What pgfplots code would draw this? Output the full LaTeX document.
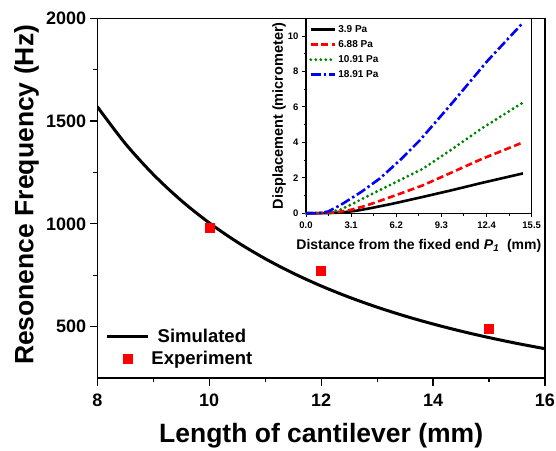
\documentclass[border=0pt]{standalone}
\usepackage{fontspec}
\setmainfont{Liberation Sans}
\usepackage{pgfplots}
\pgfplotsset{compat=1.18}
\definecolor{ogreen}{RGB}{0,128,0}
\begin{document}
\begin{tikzpicture}
\useasboundingbox (0pt,0pt) rectangle (556pt,450pt);
\begin{axis}[
  at={(97.3pt,72pt)}, anchor=south west, scale only axis,
  width=447.7pt, height=359.7pt,
  xmin=8, xmax=16, ymin=250, ymax=2000,
  xtick={8,10,12,14,16}, minor xtick={9,11,13,15},
  ytick={500,1000,1500,2000}, minor ytick={750,1250,1750},
  tick pos=left, tick align=outside,
  major tick length=7.5pt, minor tick length=4pt,
  every tick/.style={black, line width=1.2pt},
  axis line style={line width=1.2pt},
  /pgf/number format/assume math mode=true,
  /pgf/number format/1000 sep={},
  ticklabel style={font=\bfseries\fontsize{18}{20}\selectfont},
  xticklabel style={yshift=-5pt},
  xlabel={Length of cantilever (mm)},
  ylabel={Resonence Frequency (Hz)},
  label style={font=\bfseries\fontsize{26.5}{30}\selectfont},
  xlabel style={at={(axis description cs:0.5,-0.178)}, anchor=base},
  ylabel style={at={(axis description cs:-0.143,0.509)}, anchor=base},
  legend image code/.code={\draw[mark repeat=2,mark phase=2,#1] plot coordinates {(0pt,0pt) (20.5pt,0pt) (41pt,0pt)};},
  legend style={at={(axis description cs:0,0)}, anchor=south west, draw=none, fill=none,
    font=\bfseries\fontsize{18.5}{20}\selectfont, row sep=2.5pt, xshift=5pt, yshift=8pt},
  legend cell align=center,
]
\addplot[black, line width=3pt, smooth] coordinates {
(8,1570) (8.5,1390.7) (9,1240.5) (9.5,1113.3) (10,1004.8) (10.5,911.4) (11,830.4)
(11.5,759.8) (12,697.8) (12.5,643.1) (13,594.6) (13.5,551.3) (14,512.7) (14.5,477.9)
(15,446.6) (15.5,418.2) (16,392.5)};
\addlegendentry{Simulated}
\addplot[only marks, mark=square*, mark size=4.5pt, color=red, fill=red] coordinates {
(10,980) (12,770) (15,492)};
\addlegendentry{Experiment}
\end{axis}
\begin{axis}[
  at={(306pt,236.7pt)}, anchor=south west, scale only axis,
  width=225.7pt, height=195pt,
  xmin=0, xmax=15.5, ymin=0, ymax=11,
  xtick={0,3.1,6.2,9.3,12.4,15.5}, minor xtick={1.55,4.65,7.75,10.85,13.95},
  ytick={0,2,4,6,8,10}, minor ytick={1,3,5,7,9},
  xticklabel style={/pgf/number format/fixed, /pgf/number format/fixed zerofill, /pgf/number format/precision=1, yshift=-1pt},
  tick pos=left, tick align=outside,
  major tick length=4pt, minor tick length=2.5pt,
  every tick/.style={black, line width=1pt},
  axis line style={line width=1.1pt},
  axis background/.style={fill=white},
  clip=false,
  /pgf/number format/assume math mode=true,
  ticklabel style={font=\bfseries\fontsize{9.5}{11}\selectfont},
  xlabel={Distance from the fixed end \textit{P}\textsubscript{\textit{1}}\ \ (mm)},
  ylabel={Displacement (micrometer)},
  label style={font=\bfseries\fontsize{14}{15}\selectfont},
  xlabel style={at={(axis description cs:0.5,-0.186)}, anchor=base},
  ylabel style={at={(axis description cs:-0.102,0.5)}, anchor=base, font=\bfseries\fontsize{14.5}{15}\selectfont},
  legend image code/.code={\draw[#1] (0pt,0pt) -- (24pt,0pt);},
  legend style={at={(axis description cs:0,1)}, anchor=north west, draw=none, fill=none,
    font=\bfseries\fontsize{10}{11}\selectfont, row sep=2.5pt, yshift=-3pt},
  legend cell align=left,
]
\addplot[black, line width=2.6pt] coordinates {
(0,0) (1.5,0.01) (2.5,0.05) (3.5,0.15) (4.5,0.3) (6,0.55) (8,0.92) (10,1.3) (12,1.7) (14.9,2.25)};
\addlegendentry{3.9 Pa}
\addplot[red, line width=2.6pt, dash pattern=on 7pt off 3.5pt] coordinates {
(0,0) (1,0.01) (2,0.05) (3,0.18) (4,0.4) (5,0.68) (6.5,1.12) (8,1.57) (10,2.3) (12,3.04) (14.9,4.0)};
\addlegendentry{6.88 Pa}
\addplot[ogreen, line width=3.2pt, line cap=round, dash pattern=on 0pt off 5pt] coordinates {
(0,0) (1,0.02) (1.7,0.08) (2.34,0.2) (3,0.45) (4.17,0.94) (6,1.69) (8,2.5) (10,3.6) (12,4.75) (14.9,6.25)};
\addlegendentry{10.91 Pa}
\addplot[blue, line width=2.6pt, dash pattern=on 10pt off 3pt on 2.5pt off 3pt] coordinates {
(0,0) (1,0.02) (1.5,0.1) (2,0.3) (2.56,0.56) (3.82,1.22) (5.08,1.97) (6.46,3.0) (7.83,4.13) (10.12,6.3) (12.41,8.55) (14.9,10.75)};
\addlegendentry{18.91 Pa}
\end{axis}
\end{tikzpicture}
\end{document}
